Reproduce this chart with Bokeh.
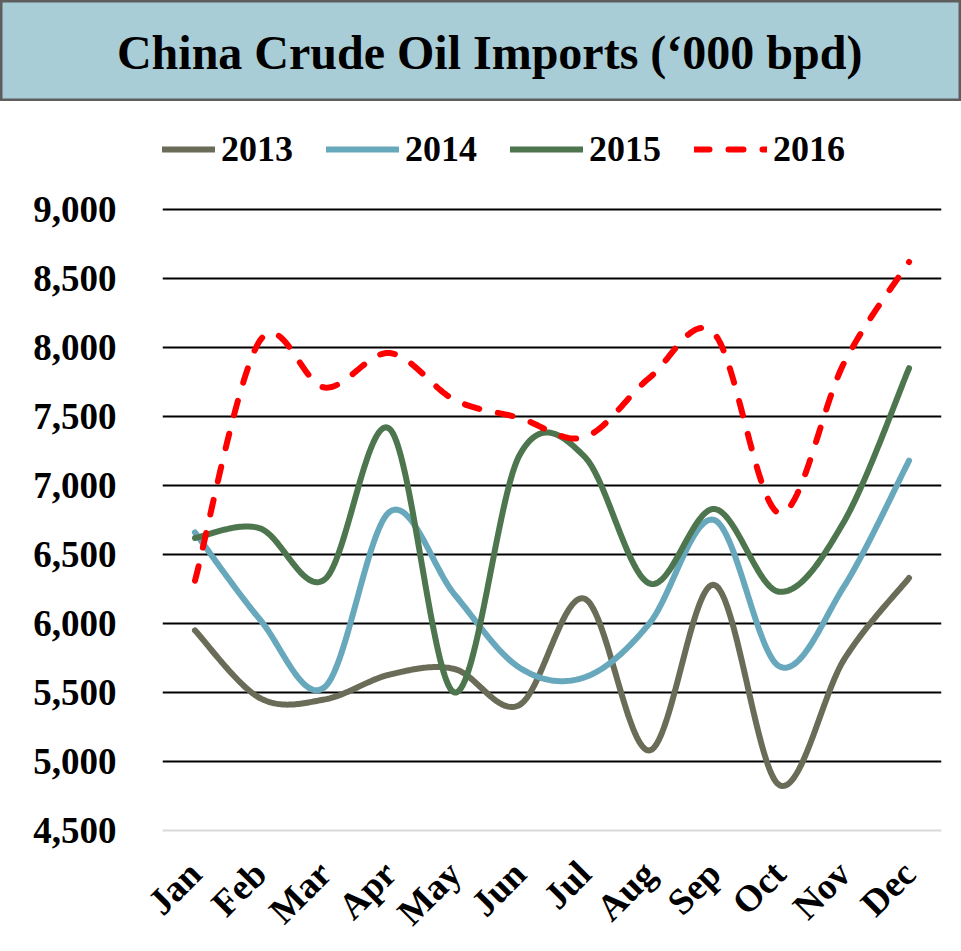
import numpy as np
from bokeh.plotting import figure
from bokeh.models import (Range1d, FixedTicker, Legend, LegendItem, Label,
                          NumeralTickFormatter)
from bokeh.layouts import column
from bokeh.embed import file_html
from bokeh.resources import INLINE

# ---------------- data ----------------
months = ["Jan", "Feb", "Mar", "Apr", "May", "Jun",
          "Jul", "Aug", "Sep", "Oct", "Nov", "Dec"]
imports_2013 = [5950, 5460, 5450, 5630, 5670, 5410, 6180, 5080, 6280, 4830, 5740, 6330]
imports_2014 = [6660, 6030, 5540, 6810, 6210, 5680, 5610, 6000, 6750, 5690, 6270, 7180]
imports_2015 = [6620, 6690, 6320, 7410, 5500, 7220, 7210, 6290, 6830, 6230, 6740, 7850]
imports_2016 = [6310, 8050, 7710, 7960, 7620, 7490, 7350, 7780, 8100, 6800, 7890, 8620]
series_names = ["2013", "2014", "2015", "2016"]
y_ticks = [4500, 5000, 5500, 6000, 6500, 7000, 7500, 8000, 8500, 9000]
title_text = "China Crude Oil Imports (\u2018000 bpd)"

FONT = "Liberation Serif"


def smooth(xs, ys, steps=40):
    """Excel-like smoothed line: cubic Bezier with Catmull-Rom control points."""
    pts = np.column_stack([np.asarray(xs, float), np.asarray(ys, float)])
    n = len(pts)
    out = []
    for i in range(n - 1):
        p0 = pts[i - 1] if i > 0 else pts[i]
        p1 = pts[i]
        p2 = pts[i + 1]
        p3 = pts[i + 2] if i + 2 < n else pts[i + 1]
        c1 = p1 + (p2 - p0) / 6.0
        c2 = p2 - (p3 - p1) / 6.0
        t = np.linspace(0, 1, steps, endpoint=(i == n - 2))[:, None]
        seg = ((1 - t) ** 3) * p1 + 3 * ((1 - t) ** 2) * t * c1 + 3 * (1 - t) * t ** 2 * c2 + t ** 3 * p2
        out.append(seg)
    arr = np.vstack(out)
    return arr[:, 0], arr[:, 1]


x_idx = list(range(1, len(months) + 1))

# ---------------- title bar ----------------
t = figure(width=961, height=101, x_range=Range1d(0, 1), y_range=Range1d(0, 1),
           toolbar_location=None, output_backend="svg", min_border=0)
t.frame_align = False
t.axis.visible = False
t.grid.visible = False
t.background_fill_color = "#a9cdd7"
t.border_fill_color = "#ffffff"
t.outline_line_color = "#5e5e5e"
t.outline_line_width = 4
t.add_layout(Label(x=0.509, y=0.49, text=title_text, text_align="center",
                   text_baseline="middle", text_font=FONT,
                   text_font_size="48px", text_font_style="bold",
                   text_color="#000000"))

# ---------------- main chart ----------------
# frame spans from a little below the title bar to the 4,500 axis;
# the space above 9,000 holds the legend
p = figure(width=961, height=850, x_range=Range1d(0.5, 12.5),
           y_range=Range1d(4500, 9725), toolbar_location=None,
           output_backend="svg", min_border_left=162, min_border_right=20,
           min_border_top=8, min_border_bottom=121)
p.frame_align = False
p.outline_line_color = None
p.background_fill_color = "#ffffff"

colors = ["#6a6c57", "#68a8bc", "#4d754e", "#ff0000"]
datasets = [imports_2013, imports_2014, imports_2015, imports_2016]
items = []
for name, data, col in zip(series_names, datasets, colors):
    sx, sy = smooth(x_idx, data)
    kw = dict(line_color=col, line_width=6, line_cap="round", line_join="round")
    if name == "2016":
        kw["line_dash"] = "15 19"
    r = p.line(sx, sy, **kw)
    items.append(LegendItem(label=name, renderers=[r]))

# axes
p.xaxis.ticker = FixedTicker(ticks=x_idx)
p.xaxis.major_label_overrides = {i: m for i, m in zip(x_idx, months)}
p.xaxis.major_label_orientation = np.pi / 4
p.xaxis.major_label_text_font = FONT
p.xaxis.major_label_text_font_style = "bold"
p.xaxis.major_label_text_font_size = "37px"
p.xaxis.major_label_text_color = "#000000"
p.xaxis.major_label_standoff = 31
p.xaxis.axis_line_color = "#d9d9d9"
p.xaxis.axis_line_width = 2
p.xaxis.major_tick_line_color = None
p.xaxis.minor_tick_line_color = None

p.yaxis.ticker = FixedTicker(ticks=y_ticks)
p.yaxis.formatter = NumeralTickFormatter(format="0,0")
p.yaxis.major_label_text_font = FONT
p.yaxis.major_label_text_font_style = "bold"
p.yaxis.major_label_text_font_size = "37px"
p.yaxis.major_label_text_color = "#000000"
p.yaxis.major_label_standoff = 40
p.yaxis.axis_line_color = None
p.yaxis.major_tick_line_color = None
p.yaxis.minor_tick_line_color = None

p.xgrid.visible = False
p.ygrid.ticker = FixedTicker(ticks=y_ticks[1:])
p.ygrid.grid_line_color = "#000000"
p.ygrid.grid_line_width = 2

legend = Legend(items=items, orientation="horizontal", location=(-20, 660),
                label_text_font=FONT, label_text_font_style="bold",
                label_text_font_size="36px", label_text_color="#000000",
                glyph_width=73, glyph_height=20, label_standoff=6, spacing=33,
                padding=0, margin=0, border_line_alpha=0,
                background_fill_alpha=0)
p.add_layout(legend, "center")

layout = column(t, p, spacing=0)
open("out.html", "w").write(file_html(layout, INLINE))
